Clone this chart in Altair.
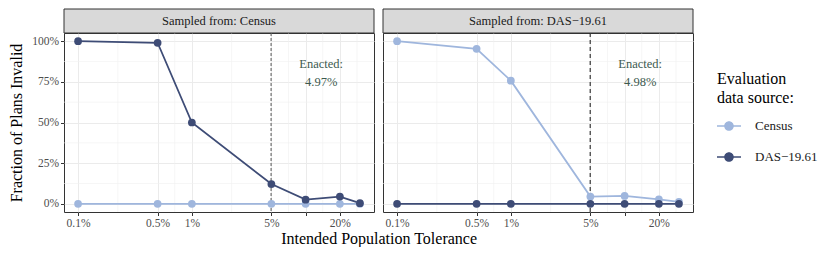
import altair as alt
import pandas as pd

# ---- data ----
tolerance = [0.1, 0.5, 1, 5, 10, 20, 30]          # intended population tolerance (%)
sources = ["Census", "DAS\u221219.61"]              # evaluation data source
panels = ["Sampled from: Census", "Sampled from: DAS\u221219.61"]
enacted = [4.97, 4.98]                               # enacted plan deviation (%)
enacted_labels = ["Enacted:\n4.97%", "Enacted:\n4.98%"]

# fraction invalid, panel 1 (sampled from Census)
p1_census = [0.0, 0.0, 0.0, 0.0, 0.0, 0.0, 0.0]
p1_das = [1.00, 0.99, 0.50, 0.122, 0.026, 0.045, 0.004]
# fraction invalid, panel 2 (sampled from DAS-19.61)
p2_census = [1.00, 0.953, 0.757, 0.045, 0.049, 0.027, 0.012]
p2_das = [0.0, 0.0, 0.0, 0.0, 0.0, 0.0, 0.0]

x_breaks = [0.1, 0.5, 1, 5, 10, 20]
x_minor = [0.2236, 0.7071, 2.236, 7.071, 14.14, 28.28]
y_breaks = [0, 0.25, 0.5, 0.75, 1.0]
y_minor = [0.125, 0.375, 0.625, 0.875]

colors = ["#9fb6dd", "#3e4c76"]
FONT = "Liberation Serif"
PW, PH, SH = 310, 179, 24

x_scale = alt.Scale(type="log", domain=[0.0752, 39.9], nice=False)
y_scale = alt.Scale(domain=[-0.05, 1.05], nice=False, zero=False)
color_scale = alt.Scale(domain=sources, range=colors)
legend = alt.Legend(title=["Evaluation", "data source:"], orient="none", legendX=653, legendY=38)


def panel(idx, census_vals, das_vals, first):
    rows = []
    for s, vals in zip(sources, [census_vals, das_vals]):
        for t, v in zip(tolerance, vals):
            rows.append({"tol": t, "value": v, "source": s})
    df = pd.DataFrame(rows)

    if first:
        y_axis = alt.Axis(values=y_breaks, format="%", title="Fraction of Plans Invalid",
                          titleFontSize=16, titleFontWeight="normal", titleColor="black", titlePadding=7)
    else:
        y_axis = alt.Axis(values=y_breaks, labels=False, ticks=False, title=None)
    x_axis = alt.Axis(values=x_breaks, labelExpr="datum.value == 10 ? '' : datum.value + '%'", title=None)

    base = alt.Chart(df)
    minor_x = alt.Chart(pd.DataFrame({"m": x_minor})).mark_rule(color="#f0f0f0", strokeWidth=0.6).encode(
        x=alt.X("m:Q", scale=x_scale, axis=x_axis))
    minor_y = alt.Chart(pd.DataFrame({"m": y_minor})).mark_rule(color="#f0f0f0", strokeWidth=0.6).encode(
        y=alt.Y("m:Q", scale=y_scale, axis=y_axis))
    vline = alt.Chart(pd.DataFrame({"e": [enacted[idx]]})).mark_rule(
        color="#555555" if first else "#111111", strokeDash=[3, 2] if first else [4, 3], strokeWidth=1).encode(
        x=alt.X("e:Q", scale=x_scale))
    label = alt.Chart(pd.DataFrame({"x": [13.7], "y": [0.86], "t": [enacted_labels[idx]]})).mark_text(
        color="#3d5a4f", fontSize=12.5, lineBreak="\n", lineHeight=18, font=FONT).encode(
        x=alt.X("x:Q", scale=x_scale), y=alt.Y("y:Q", scale=y_scale), text="t:N")
    lines = base.mark_line(strokeWidth=1.8).encode(
        x=alt.X("tol:Q", scale=x_scale),
        y=alt.Y("value:Q", scale=y_scale),
        color=alt.Color("source:N", scale=color_scale, legend=legend),
        detail="source:N")
    points = base.mark_circle(size=60, opacity=1).encode(
        x=alt.X("tol:Q", scale=x_scale),
        y=alt.Y("value:Q", scale=y_scale),
        color=alt.Color("source:N", scale=color_scale, legend=legend),
        order=alt.Order("source:N"))
    strip_df = pd.DataFrame({"lab": [panels[idx]]})
    strip_bg = alt.Chart(strip_df).mark_rect(fill="#d9d9d9", stroke="#333333", strokeWidth=1).encode(
        x=alt.value(0), x2=alt.value(PW), y=alt.value(-SH), y2=alt.value(0))
    strip_txt = alt.Chart(strip_df).mark_text(fontSize=12.5, color="#1a1a1a", font=FONT).encode(
        x=alt.value(PW / 2), y=alt.value(-SH / 2), text="lab:N")
    return alt.layer(minor_x, minor_y, vline, label, lines, points, strip_bg, strip_txt).properties(
        width=PW, height=PH, view=alt.ViewBackground(stroke="#333333", strokeWidth=1))


chart = alt.hconcat(panel(0, p1_census, p1_das, True), panel(1, p2_census, p2_das, False),
                    spacing=7).properties(
    padding={"left": 0, "top": 0, "right": 0, "bottom": 0},
    title=alt.TitleParams("Intended Population Tolerance", orient="bottom", anchor="middle",
                          fontSize=16, fontWeight="normal", color="black", font=FONT, offset=1, dx=-34)
).configure(font=FONT).configure_axis(
    grid=True, gridColor="#ebebeb", gridWidth=1, domain=False,
    tickColor="#333333", tickSize=3.5, labelColor="#4d4d4d", labelFontSize=11.5, labelPadding=2,
    labelFont=FONT, titleFont=FONT
).configure_legend(
    titleFontSize=16, titleFontWeight="normal", titleColor="black", titleLineHeight=19, titlePadding=8,
    labelFontSize=13, labelColor="#1a1a1a", labelOffset=14, rowPadding=12, padding=0,
    titleFont=FONT, labelFont=FONT,
    symbolType="M-1,-0.065H1V0.065H-1Z M0.4,0A0.4,0.4 0 1,1 -0.4,0A0.4,0.4 0 1,1 0.4,0Z",
    symbolSize=576, symbolStrokeWidth=0, symbolOpacity=1
).configure_view(stroke="#333333")

chart.save("out.html", embed_options={"renderer": "svg", "actions": False})
